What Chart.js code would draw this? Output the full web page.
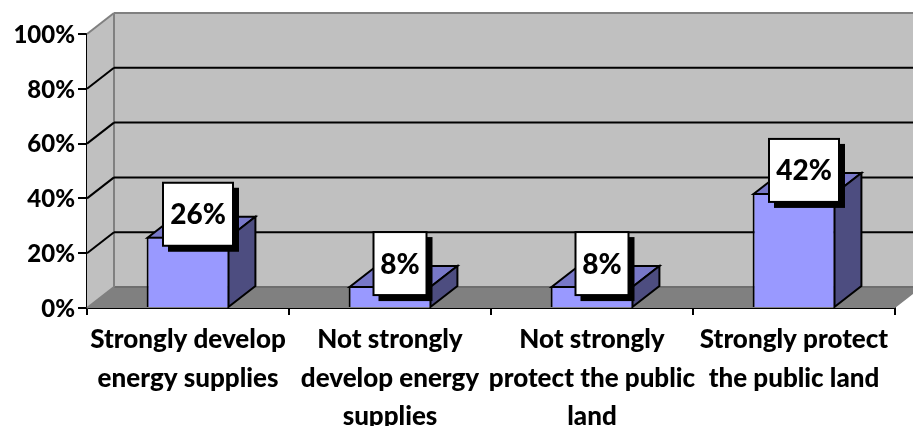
<!DOCTYPE html>
<html><head><meta charset="utf-8">
<style>html,body{margin:0;padding:0;background:#fff}#w{width:913px;height:426px}</style>
<script src="https://cdn.jsdelivr.net/npm/chart.js@4/dist/chart.umd.min.js"></script>
</head><body><div id="w"><canvas id="c" width="913" height="426"></canvas></div>
<script>
const categories = [
  ["Strongly develop","energy supplies"],
  ["Not strongly","develop energy","supplies"],
  ["Not strongly","protect the public","land"],
  ["Strongly protect","the public land"]
];
const values = [26, 8, 8, 42];
const yTickStep = 20;
const yMax = 100;
const FONT = "Lato, 'Open Sans', sans-serif";
const DX = 27, DY = 21;

const poly = (ctx, pts, fill, stroke, lw) => {
  ctx.beginPath();
  pts.forEach((p,i)=> i?ctx.lineTo(p[0],p[1]):ctx.moveTo(p[0],p[1]));
  ctx.closePath();
  if(fill){ctx.fillStyle=fill;ctx.fill();}
  if(stroke){ctx.strokeStyle=stroke;ctx.lineWidth=lw||2;ctx.lineJoin='miter';ctx.stroke();}
};
const line = (ctx,x1,y1,x2,y2,c,lw)=>{ctx.beginPath();ctx.moveTo(x1,y1);ctx.lineTo(x2,y2);ctx.strokeStyle=c;ctx.lineWidth=lw||2;ctx.stroke();};

const scene3d = {
  id:'scene3d',
  beforeDatasetsDraw(chart){
    const {ctx,chartArea:a,scales:{y}} = chart;
    const L=a.left,R=a.right,T=a.top,B=a.bottom;
    ctx.save();
    poly(ctx,[[L,B],[L,T],[L+DX,T-DY],[L+DX,B-DY]],'#c0c0c0');
    poly(ctx,[[L+DX,T-DY],[R+DX,T-DY],[R+DX,B-DY],[L+DX,B-DY]],'#c0c0c0');
    poly(ctx,[[L,B],[R,B],[R+DX,B-DY],[L+DX,B-DY]],'#808080');
    line(ctx,L+DX,B-DY,R+DX,B-DY,'#6e6e6e',2);
    line(ctx,L,B,L+DX,B-DY,'#808080',2);
    line(ctx,L+DX,T-DY,L+DX,B-DY,'#808080',2);
    line(ctx,L+DX,T-DY,R+DX,T-DY,'#808080',2);
    line(ctx,L,T,L+DX,T-DY,'#808080',2);
    for(let v=yTickStep;v<yMax;v+=yTickStep){
      const p=y.getPixelForValue(v);
      line(ctx,L,p,L+DX,p-DY,'#000',2);
      line(ctx,L+DX,p-DY,R+DX,p-DY,'#000',2);
    }
    chart.getDatasetMeta(0).data.forEach(b=>{
      const l=b.x-b.width/2+1,r=b.x+b.width/2-1,t=b.y+1;
      poly(ctx,[[l,t],[r,t],[r+DX,t-DY],[l+DX,t-DY]],'#7878c8','#000',2);
      poly(ctx,[[r,t],[r,b.base],[r+DX,b.base-DY],[r+DX,t-DY]],'#4d4d80','#000',2);
    });
    ctx.restore();
  },
  afterDatasetsDraw(chart){
    const {ctx}=chart;
    ctx.save();
    ctx.font="900 28px "+FONT;
    ctx.textAlign='center';ctx.textBaseline='middle';
    chart.getDatasetMeta(0).data.forEach((b,i)=>{
      const t=values[i]+'%';
      const w=Math.round(ctx.measureText(t).width)+14,h=63;
      const cx=b.x+10,cy=b.y-22.5;
      ctx.fillStyle='#000';
      ctx.fillRect(cx-w/2+5,cy-h/2+5,w+1,h+1);
      ctx.fillStyle='#fff';ctx.strokeStyle='#000';ctx.lineWidth=2;
      ctx.fillRect(cx-w/2,cy-h/2,w,h);ctx.strokeRect(cx-w/2,cy-h/2,w,h);
      ctx.fillStyle='#000';
      ctx.fillText(t,cx,cy+1);
    });
    ctx.restore();
  }
};

new Chart(document.getElementById('c'),{
  type:'bar',
  data:{labels:categories,datasets:[{data:values,backgroundColor:'#9999ff',borderColor:'#000',borderWidth:2,barPercentage:0.41,categoryPercentage:1}]},
  options:{
    responsive:false,animation:false,
    layout:{padding:{top:34,right:18,left:0,bottom:0}},
    plugins:{legend:{display:false},tooltip:{enabled:false}},
    scales:{
      x:{
        grid:{drawOnChartArea:false,color:'#000',lineWidth:2,tickLength:7,offset:true},
        border:{color:'#000',width:2},
        afterFit(s){s.height=118;},
        ticks:{autoSkip:false,maxRotation:0,minRotation:0,color:'#000',padding:5,font:{family:FONT,size:26,weight:'900',lineHeight:1.49}}
      },
      y:{
        min:0,max:yMax,
        grid:{drawOnChartArea:false,color:'#000',lineWidth:2,tickLength:9},
        border:{color:'#000',width:2},
        afterFit(s){s.width=87;},
        ticks:{stepSize:yTickStep,color:'#000',padding:3,labelOffset:1,callback:v=>v+'%',font:{family:FONT,size:24,weight:'900'}}
      }
    }
  },
  plugins:[scene3d]
});
</script></body></html>
